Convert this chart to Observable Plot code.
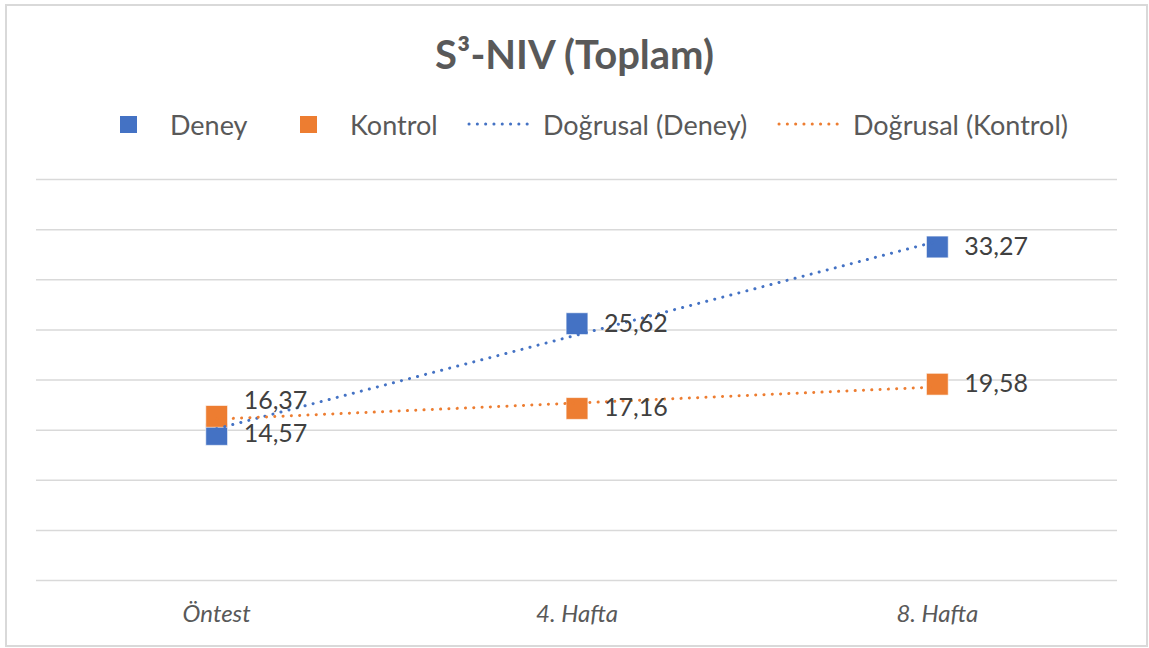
<!DOCTYPE html>
<html>
<head>
<meta charset="utf-8">
<script src="https://cdn.jsdelivr.net/npm/d3@7"></script>
<script src="https://cdn.jsdelivr.net/npm/@observablehq/plot@0.6"></script>
<style>
  html, body { margin: 0; padding: 0; background: #fff; }
  #wrap { position: relative; width: 1149px; height: 648px; overflow: hidden; font-family: Lato, "Open Sans", sans-serif; }
  #frame { position: absolute; left: 5px; top: 4px; width: 1139px; height: 639px; border: 2px solid #d9d9d9; }
  #title { position: absolute; left: 0; width: 1149px; top: 29px; text-align: center; font-weight: bold; font-size: 40px; color: #595959; line-height: 50px; }
  .leg { position: absolute; top: 108px; height: 32px; display: flex; align-items: center; font-size: 27px; color: #595959; white-space: nowrap; }
  .sw { display: block; width: 17px; height: 17px; }
  .ln { display: block; width: 70px; height: 4px; }
  .ln svg { display: block; }
  #chart { position: absolute; left: 0; top: 150px; }
</style>
</head>
<body>
<div id="wrap">
  <div id="frame"></div>
  <div id="title"></div>
  <div id="legend"></div>
  <div id="chart"></div>
</div>
<script>
const categories = ["Öntest", "4. Hafta", "8. Hafta"];
const deney = [14.57, 25.62, 33.27];
const kontrol = [16.37, 17.16, 19.58];
const yTicks = [0, 5, 10, 15, 20, 25, 30, 35, 40];
const seriesNames = ["Deney", "Kontrol"];
const trendNames = ["Doğrusal (Deney)", "Doğrusal (Kontrol)"];
const colors = ["#4472C4", "#ED7D31"];
const titleText = "S³-NIV (Toplam)";

document.getElementById("title").textContent = titleText;

// legend (HTML, above the svg)
const legend = document.getElementById("legend");
const legendItems = [
  {kind: "sw", color: colors[0], text: seriesNames[0], left: 120, gap: 33},
  {kind: "sw", color: colors[1], text: seriesNames[1], left: 300, gap: 33},
  {kind: "ln", color: colors[0], text: trendNames[0], left: 467, gap: 6},
  {kind: "ln", color: colors[1], text: trendNames[1], left: 777, gap: 6}
];
for (const it of legendItems) {
  const d = document.createElement("div");
  d.className = "leg";
  d.style.left = it.left + "px";
  const s = document.createElement("span");
  if (it.kind === "sw") {
    s.className = "sw";
    s.style.background = it.color;
  } else {
    s.className = "ln";
    s.innerHTML = `<svg width="70" height="4"><line x1="2" x2="68" y1="2" y2="2" stroke="${it.color}" stroke-width="3" stroke-linecap="round" stroke-dasharray="0.1 8.2"/></svg>`;
  }
  const t = document.createElement("span");
  t.textContent = it.text;
  t.style.marginLeft = it.gap + "px";
  d.appendChild(s);
  d.appendChild(t);
  legend.appendChild(d);
}

const rows = [];
categories.forEach((c, k) => {
  rows.push({series: seriesNames[0], i: k + 1, cat: c, v: deney[k]});
  rows.push({series: seriesNames[1], i: k + 1, cat: c, v: kontrol[k]});
});
const dRows = rows.filter(d => d.series === seriesNames[0]);
const kRows = rows.filter(d => d.series === seriesNames[1]);
const fmt = v => d3.format(".2f")(v).replace(".", ",");

const trendOpts = {x: "i", y: "v", ci: 0, strokeWidth: 3, strokeLinecap: "round", strokeDasharray: "0.1 8.2"};
const labelOpts = {x: "i", y: "v", text: d => fmt(d.v), textAnchor: "start", dx: 27, fontSize: 25, fill: "#404040"};

const chart = Plot.plot({
  width: 1149,
  height: 485,
  marginLeft: 36,
  marginRight: 32,
  marginTop: 29,
  marginBottom: 55,
  style: {fontFamily: "Lato, 'Open Sans', sans-serif", background: "transparent"},
  x: {type: "linear", domain: [0.5, 3.5], axis: null},
  y: {domain: [0, 40], axis: null},
  marks: [
    Plot.gridY(yTicks, {stroke: "#d9d9d9", strokeOpacity: 1, strokeWidth: 1.5}),
    Plot.dot(dRows, {x: "i", y: "v", symbol: "square", r: 12.3, fill: colors[0], stroke: "#ffffff", strokeWidth: 0.6}),
    Plot.dot(kRows, {x: "i", y: "v", symbol: "square", r: 12.3, fill: colors[1], stroke: "#ffffff", strokeWidth: 0.6}),
    Plot.linearRegressionY(dRows, {...trendOpts, stroke: colors[0]}),
    Plot.linearRegressionY(kRows, {...trendOpts, stroke: colors[1]}),
    Plot.text(dRows, labelOpts),
    Plot.text(kRows.filter(d => d.i !== 1), labelOpts),
    Plot.text(kRows.filter(d => d.i === 1), {...labelOpts, dy: -15}),
    Plot.axisX([1, 2, 3], {tickFormat: i => categories[i - 1], tickSize: 0, tickPadding: 24, fontSize: 24, fontStyle: "italic", fill: "#595959", label: null})
  ]
});
document.getElementById("chart").appendChild(chart);
</script>
</body>
</html>
